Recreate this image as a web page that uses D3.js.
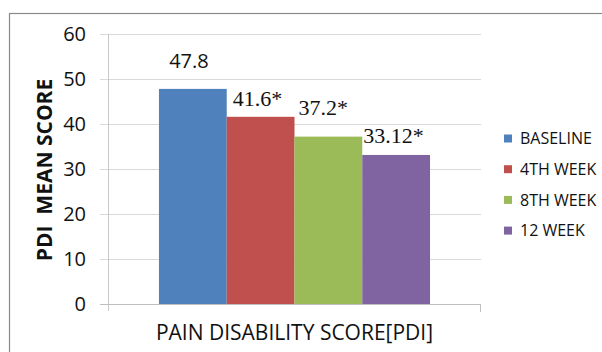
<!DOCTYPE html>
<html>
<head>
<meta charset="utf-8">
<script src="https://cdn.jsdelivr.net/npm/d3@7/dist/d3.min.js"></script>
<style>
  html, body { margin: 0; padding: 0; background: #fff; }
  svg { display: block; }
  text { font-family: "Open Sans", "Noto Sans", sans-serif; fill: #111; }
</style>
</head>
<body>
<svg id="chart" width="602" height="352"></svg>
<script>
// Data
const category = ["PAIN DISABILITY SCORE[PDI]"];
const seriesNames = ["BASELINE", "4TH WEEK", "8TH WEEK", "12 WEEK"];
const seriesValues = [47.8, 41.6, 37.2, 33.12];
const valueLabels = ["47.8", "41.6*", "37.2*", "33.12*"];
const yTicks = [0, 10, 20, 30, 40, 50, 60];
const yTitle = "PDI  MEAN SCORE";

// Layout
const colors = ["#4F81BD", "#C0504D", "#9BBB59", "#8064A2"];
const plot = { left: 108, right: 481, top: 34, bottom: 304 };
// label placement relative to each bar: horizontal offset from bar left, gap above bar top
const labelNudge = [
  { dx: 30, dy: 21, anchor: "middle", serif: false },
  { dx: 6, dy: 11, anchor: "start", serif: true },
  { dx: 4, dy: 22, anchor: "start", serif: true },
  { dx: 1, dy: 12, anchor: "start", serif: true }
];

const svg = d3.select("#chart");

// outer frame
svg.append("rect")
  .attr("x", 9.5).attr("y", 13.5)
  .attr("width", 700).attr("height", 400)
  .attr("fill", "none").attr("stroke", "#8a8a8a").attr("stroke-width", 1.2);

const y = d3.scaleLinear().domain([0, 60]).range([plot.bottom, plot.top]);
const x0 = d3.scaleBand().domain(category).range([plot.left, plot.right])
  .paddingInner(0).paddingOuter(0.188);
const x1 = d3.scaleBand().domain(seriesNames).range([0, x0.bandwidth()]).padding(0);

// gridlines + y tick labels
const yAxis = d3.axisLeft(y).tickValues(yTicks).tickSizeInner(-(plot.right - 100))
  .tickSizeOuter(0).tickPadding(14).tickFormat(d3.format("d"));
const gy = svg.append("g").attr("transform", "translate(100,0)").call(yAxis);
gy.select(".domain").remove();
gy.selectAll(".tick line").attr("stroke", "#d9d9d9").attr("stroke-width", 1);
gy.selectAll(".tick text")
  .style("font-family", "'Open Sans', sans-serif")
  .attr("font-size", 20).attr("fill", "#111");

// axis lines
svg.append("line")
  .attr("x1", plot.left + 0.5).attr("x2", plot.left + 0.5)
  .attr("y1", y(60)).attr("y2", y(0) + 7)
  .attr("stroke", "#c8c8c8");
svg.append("line")
  .attr("x1", 100).attr("x2", plot.right)
  .attr("y1", y(0) + 0.5).attr("y2", y(0) + 0.5)
  .attr("stroke", "#bfbfbf");
svg.append("line")
  .attr("x1", plot.right - 0.5).attr("x2", plot.right - 0.5)
  .attr("y1", y(0)).attr("y2", y(0) + 8)
  .attr("stroke", "#bfbfbf");

// bars
const groupX = x0(category[0]);
svg.append("g").selectAll("rect")
  .data(seriesNames)
  .join("rect")
  .attr("x", d => groupX + x1(d))
  .attr("y", (d, i) => y(seriesValues[i]))
  .attr("width", x1.bandwidth())
  .attr("height", (d, i) => y(0) - y(seriesValues[i]))
  .attr("fill", (d, i) => colors[i]);

// value labels
svg.append("g").selectAll("text")
  .data(seriesNames)
  .join("text")
  .attr("x", (d, i) => groupX + x1(d) + labelNudge[i].dx)
  .attr("y", (d, i) => y(seriesValues[i]) - labelNudge[i].dy)
  .attr("text-anchor", (d, i) => labelNudge[i].anchor)
  .style("font-family", (d, i) => labelNudge[i].serif ? "'Liberation Serif', 'Times New Roman', serif" : "'Open Sans', sans-serif")
  .attr("font-size", (d, i) => labelNudge[i].serif ? 22 : 20)
  .text((d, i) => valueLabels[i]);

// y axis title
svg.append("text")
  .attr("transform", "translate(52,170) rotate(-90)")
  .attr("text-anchor", "middle")
  .attr("font-weight", "bold")
  .attr("font-size", 21)
  .style("white-space", "pre")
  .text(yTitle);

// x axis category label
svg.append("text")
  .attr("x", groupX + x0.bandwidth() / 2)
  .attr("y", 340)
  .attr("text-anchor", "middle")
  .attr("font-size", 21)
  .text(category[0]);

// legend
const legend = svg.append("g").selectAll("g")
  .data(seriesNames)
  .join("g")
  .attr("transform", (d, i) => `translate(504,${138.5 + i * 30.7})`);
legend.append("rect")
  .attr("x", 0).attr("y", -4).attr("width", 8).attr("height", 8)
  .attr("fill", (d, i) => colors[i]);
legend.append("text")
  .attr("x", 16).attr("y", 5.6)
  .attr("font-size", 16)
  .text(d => d);
</script>
</body>
</html>
